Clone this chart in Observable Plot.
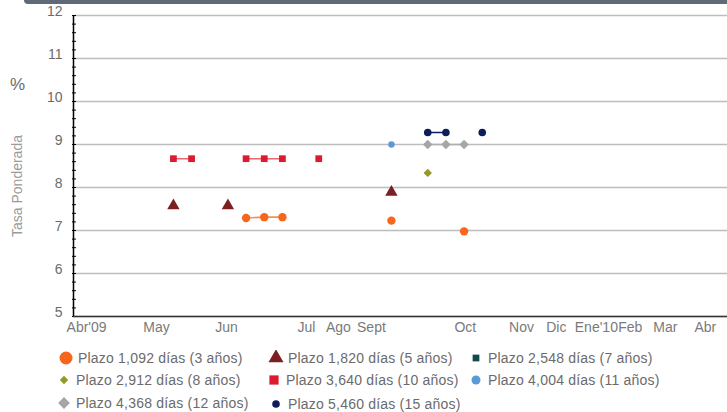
<!DOCTYPE html>
<html><head><meta charset="utf-8">
<script src="https://cdn.jsdelivr.net/npm/d3@7"></script>
<script src="https://cdn.jsdelivr.net/npm/@observablehq/plot@0.6"></script>
<style>
body{margin:0;background:#fff;font-family:"Liberation Sans",Arial,sans-serif;}
#wrap{position:relative;width:727px;height:412px;overflow:hidden;background:#fff;}
#band{position:absolute;left:24px;top:0;width:720px;height:4px;background:#5f6a76;border-bottom-left-radius:8px;}
#ytitle{position:absolute;left:17px;top:186px;transform:translate(-50%,-50%) rotate(-90deg);font-size:14px;color:#9a9a9a;white-space:nowrap;}
#pct{position:absolute;left:10px;top:75px;font-size:17px;color:#6b6b6b;}
#chart{position:absolute;left:0;top:0;}
.leg{position:absolute;display:flex;align-items:center;font-size:14px;color:#6b6b6b;white-space:nowrap;letter-spacing:0.2px;transform:translateY(-50%);}
.leg svg{flex:none;margin-right:4px;}
</style></head>
<body><div id="wrap"><div id="chart"></div><div id="band"></div><div id="pct">%</div><div id="ytitle">Tasa Ponderada</div></div>
<script>
// ---- data ----
const categories = d3.range(36); // auction dates, evenly spaced on a category axis
const monthLabels = ["Abr'09","May","Jun","Jul","Ago","Sept","Oct","Nov","Dic","Ene'10","Feb","Mar","Abr"];
const monthPos    = [0.22, 4.07, 7.92, 12.32, 14.08, 15.9, 21.07, 24.16, 26.08, 28.28, 30.15, 32.08, 34.28];
const yTicks = [5,6,7,8,9,10,11,12];

const seriesNames = ["Plazo 1,092 días (3 años)","Plazo 1,820 días (5 años)","Plazo 2,548 días (7 años)",
  "Plazo 2,912 días (8 años)","Plazo 3,640 días (10 años)","Plazo 4,004 días (11 años)",
  "Plazo 4,368 días (12 años)","Plazo 5,460 días (15 años)"];

const s3k  = [9, 10, 11, 17, 21];        const s3v  = [7.29, 7.31, 7.31, 7.23, 6.98];
const s5k  = [5, 8, 17];                 const s5v  = [7.58, 7.58, 7.89];
const s7k  = [];                         const s7v  = [];
const s8k  = [19];                       const s8v  = [8.34];
const s10k = [5, 6, 9, 10, 11, 13];      const s10v = [8.67, 8.67, 8.67, 8.67, 8.67, 8.67];
const s11k = [17];                       const s11v = [9.0];
const s12k = [19, 20, 21];               const s12v = [9.0, 9.0, 9.0];
const s15k = [19, 20, 22];               const s15v = [9.28, 9.28, 9.28];

// ---- styles ----
const styles = [
  {k:s3k,  v:s3v,  fill:"#f7661c", line:"#f7924a", symbol:"circle",   r:4.2, lr:6.5},
  {k:s5k,  v:s5v,  fill:"#7a2020", line:"#7a2020", symbol:"triangle", r:4.6, lr:5.6},
  {k:s7k,  v:s7v,  fill:"#12494f", line:"#12494f", symbol:"square",   r:3.5, lr:3.8},
  {k:s8k,  v:s8v,  fill:"#939a26", line:"#939a26", symbol:"diamond2", r:3.8, lr:3.8},
  {k:s10k, v:s10v, fill:"#dd1a2e", line:"#e8696f", symbol:"square",   r:3.8, lr:5.2},
  {k:s11k, v:s11v, fill:"#5b9bd5", line:"#5b9bd5", symbol:"circle",   r:3.2, lr:4.5},
  {k:s12k, v:s12v, fill:"#a6a6a6", line:"#b0b0b0", symbol:"diamond2", r:4.3, lr:5.3},
  {k:s15k, v:s15v, fill:"#0b1d5a", line:"#0b1d5a", symbol:"circle",   r:3.8, lr:3.8}
];

const xDomain = [-0.5, categories.length - 0.5];
const yDomain = [yTicks[0], yTicks[yTicks.length-1]];
const minorTicks = d3.range(0, 36).map(i => yDomain[0] + i * 0.2);
const monthMap = new Map(monthPos.map((p,i)=>[p, monthLabels[i]]));

function rows(s){ return s.k.map((k,i)=>({k, v:s.v[i]})); }
function lineRows(s){
  const out=[];
  s.k.forEach((k,i)=>{ if(i>0 && k - s.k[i-1] > 1) out.push({k:NaN, v:NaN}); out.push({k, v:s.v[i]}); });
  return out;
}

const marks = [
  Plot.ruleY(yTicks, {stroke:"#bdbdbd", strokeWidth:1.6}),
  Plot.axisY({ticks: minorTicks, tickSize: 4, dx: 3, tickFormat: () => "", stroke:"#000", label:null}),
  Plot.axisY({ticks: yTicks, tickSize: 0, tickPadding: 11, dy: -4, tickFormat: d => String(d), fill:"#6b6b6b", label:null}),
  Plot.ruleX([xDomain[0]], {stroke:"#000", strokeWidth:1.5}),
  Plot.ruleY([yDomain[0]], {stroke:"#333", strokeWidth:1.5}),
  Plot.axisX({ticks: monthPos, tickFormat: d => monthMap.get(d), tickSize: 0, tickPadding: 6, fill:"#7a7a7a", label:null})
];
styles.forEach(s => {
  if (s.k.length > 1) marks.push(Plot.line(lineRows(s), {x:"k", y:"v", stroke:s.line, strokeWidth:1.6}));
});
styles.forEach(s => {
  if (s.k.length) marks.push(Plot.dot(rows(s), {x:"k", y:"v", symbol:s.symbol, r:s.r, fill:s.fill}));
});

const chart = Plot.plot({
  width: 727, height: 345,
  marginTop: 15, marginBottom: 29, marginLeft: 73, marginRight: 0,
  x: {domain: xDomain, axis: null},
  y: {domain: yDomain, axis: null},
  style: {fontFamily: "Liberation Sans, Arial, sans-serif", fontSize: "14px", background: "transparent"},
  marks
});
document.getElementById("chart").appendChild(chart);

// ---- legend ----
const legendLayout = [
  {s:0, left:58,  y:358}, {s:1, left:268, y:358}, {s:2, left:468, y:358},
  {s:3, left:56,  y:380}, {s:4, left:266, y:380}, {s:5, left:468, y:380},
  {s:6, left:56,  y:403}, {s:7, left:268, y:404}
];
const symMap = {circle:d3.symbolCircle, triangle:d3.symbolTriangle, square:d3.symbolSquare, diamond2:d3.symbolDiamond2};
const wrap = document.getElementById("wrap");
legendLayout.forEach(L => {
  const s = styles[L.s];
  const div = document.createElement("div");
  div.className = "leg";
  div.style.left = L.left + "px";
  div.style.top = L.y + "px";
  const svg = d3.create("svg").attr("width", 16).attr("height", 16);
  svg.append("path").attr("transform","translate(8,8)")
    .attr("d", d3.symbol(symMap[s.symbol], Math.PI * s.lr * s.lr)()).attr("fill", s.fill);
  div.appendChild(svg.node());
  const span = document.createElement("span");
  span.textContent = seriesNames[L.s];
  div.appendChild(span);
  wrap.appendChild(div);
});
</script>
</body></html>
